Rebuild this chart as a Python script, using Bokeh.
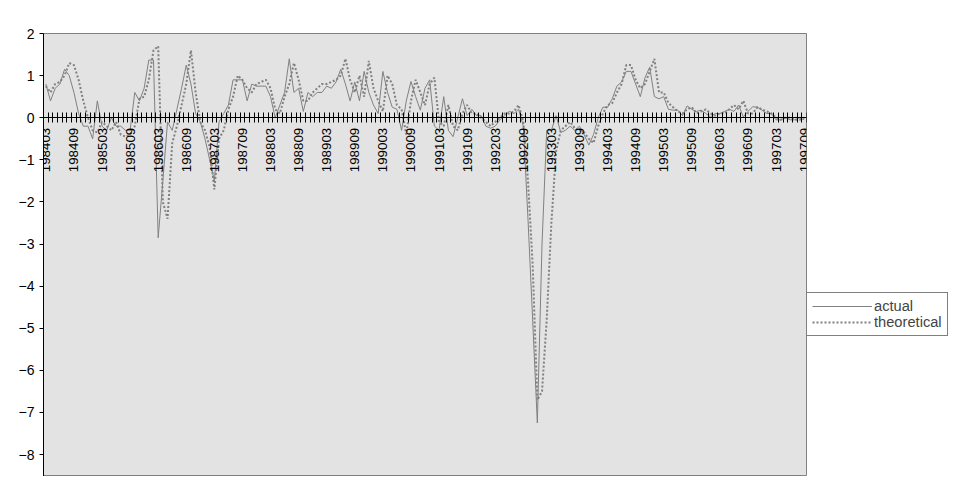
import math
from bokeh.plotting import figure
from bokeh.models import FixedTicker, Legend, LegendItem, Range1d, ColumnDataSource
from bokeh.embed import file_html
from bokeh.resources import INLINE

months = []
y, m = 1984, 3
while (y, m) <= (1997, 9):
    months.append(f"{y}{m:02d}")
    m += 1
    if m > 12:
        m = 1; y += 1

actual = [0.8, 0.4, 0.7, 0.8, 1.15, 1.0, 0.6, 0.1, -0.2, -0.2,
          -0.5, 0.4, -0.2, -0.3, 0.0, -0.2, -0.2, -0.3, -0.3, 0.6,
          0.4, 0.7, 1.37, 1.37, -2.85, -1.5, -0.1, -0.3, 0.2, 0.7,
          1.25, 0.8, 0.1, -0.1, -0.5, -1.0, -1.5, -0.1, 0.1, 0.3,
          0.9, 0.9, 0.9, 0.4, 0.8, 0.75, 0.75, 0.75, 0.5, 0.0,
          0.3, 0.6, 1.4, 0.6, 0.7, 0.15, 0.6, 0.5, 0.6, 0.6,
          0.75, 0.7, 0.85, 1.15, 0.8, 0.4, 0.85, 0.4, 1.1, 0.6,
          0.3, 0.1, 1.1, 0.6, 0.25, 0.2, -0.3, 0.4, 0.86, 0.5,
          0.18, 0.7, 0.9, -0.2, -0.3, 0.5, -0.3, -0.45, 0.0, 0.45,
          0.05, 0.2, 0.05, 0.05, -0.2, -0.25, -0.2, -0.05, 0.05, 0.15,
          0.1, 0.2, -0.2, -2.4, -4.8, -7.25, -3.0, -0.3, -0.3, 0.05,
          -0.35, -0.3, -0.2, -0.3, -0.2, -0.4, -0.65, -0.4, 0.0, 0.25,
          0.25, 0.45, 0.75, 0.85, 1.1, 1.1, 0.8, 0.5, 0.95, 1.2,
          0.5, 0.45, 0.5, 0.2, 0.18, 0.18, 0.05, 0.28, 0.2, 0.15,
          0.18, 0.1, 0.02, 0.1, 0.1, 0.15, 0.2, 0.15, 0.3, 0.02,
          0.15, 0.26, 0.25, 0.18, 0.1, 0.1, -0.05, -0.05, 0.0, -0.05,
          -0.05, 0.0, -0.05]

theoretical = [0.75, 0.6, 0.8, 0.85, 1.0, 1.3, 1.25, 0.9, 0.4, 0.0,
               -0.3, -0.35, -0.1, -0.2, -0.3, -0.1, -0.4, -0.45, -0.4, -0.2,
               0.45, 0.5, 0.9, 1.6, 1.7, -2.0, -2.4, -0.6, -0.2, 0.3,
               0.8, 1.6, 0.6, -0.1, -0.3, -0.7, -1.7, -0.5, -0.3, 0.2,
               0.5, 1.0, 0.9, 0.7, 0.6, 0.8, 0.85, 0.9, 0.7, 0.2,
               0.1, 0.5, 0.8, 1.3, 0.9, 0.4, 0.4, 0.6, 0.7, 0.8,
               0.8, 0.85, 0.9, 1.0, 1.4, 0.9, 0.6, 1.0, 0.5, 1.35,
               0.7, 0.4, 0.15, 1.0, 0.8, 0.3, 0.2, -0.4, 0.4, 0.9,
               0.6, 0.3, 0.8, 0.95, -0.1, -0.2, 0.3, -0.2, -0.3, 0.1,
               0.3, 0.1, 0.1, 0.0, -0.1, -0.2, -0.1, 0.0, 0.1, 0.1,
               0.15, 0.3, -0.1, -1.5, -3.5, -6.7, -6.5, -4.8, -2.5, -0.8,
               -0.3, -0.2, -0.1, -0.25, -0.3, -0.35, -0.5, -0.6, -0.2, 0.1,
               0.3, 0.35, 0.6, 0.8, 1.25, 1.25, 0.9, 0.7, 0.8, 1.1,
               1.4, 0.6, 0.6, 0.35, 0.25, 0.15, 0.1, 0.2, 0.25, 0.1,
               0.15, 0.2, 0.1, 0.05, 0.1, 0.1, 0.2, 0.3, 0.2, 0.4,
               0.1, 0.1, 0.25, 0.2, 0.15, 0.1, 0.0, -0.05, 0.0, 0.0,
               -0.05, -0.05, 0.0]

n = len(months)
actual = actual[:n] + [0.0] * (n - len(actual))
theoretical = theoretical[:n] + [0.0] * (n - len(theoretical))
xs = list(range(n))
src = ColumnDataSource(dict(x=xs, a=actual, t=theoretical))

p = figure(frame_width=763, frame_height=443, output_backend="svg", toolbar_location=None,
           x_range=Range1d(-0.5, n - 0.5), y_range=Range1d(-8.52, 2.0),
           min_border_left=43, min_border_top=33, min_border_right=0, min_border_bottom=0)
p.background_fill_color = "#e3e3e3"
p.outline_line_color = "#808080"
p.xgrid.visible = False
p.ygrid.visible = False

r1 = p.line("x", "a", source=src, line_color="#808080", line_width=1)
r2 = p.line("x", "t", source=src, line_color="#808080", line_width=2, line_dash="2 2")

p.yaxis.ticker = FixedTicker(ticks=list(range(-8, 3)))
p.yaxis.minor_tick_line_color = None
p.yaxis.major_tick_in = 0
p.yaxis.major_tick_out = 4
p.yaxis.axis_line_color = "black"
p.yaxis.major_label_text_font = "Liberation Sans"
p.yaxis.major_label_text_font_size = "10.5pt"
p.yaxis.major_label_text_color = "black"

xa = p.xaxis[0]
xa.fixed_location = 0
xa.ticker = FixedTicker(ticks=list(range(0, n, 6)), minor_ticks=[i + 0.5 for i in range(-1, n)])
xa.major_label_overrides = {i: months[i] for i in range(0, n, 6)}
xa.major_label_orientation = math.pi / 2
xa.major_label_text_font = "Liberation Sans"
xa.major_label_text_font_size = "10pt"
xa.major_label_text_color = "black"
xa.major_tick_in = 0
xa.major_tick_out = 0
xa.minor_tick_in = 5
xa.minor_tick_out = 5
xa.minor_tick_line_color = "black"
xa.axis_line_color = "black"

legend = Legend(items=[LegendItem(label="actual", renderers=[r1]),
                       LegendItem(label="theoretical", renderers=[r2])],
                location=(0, 140), orientation="vertical")
legend.label_text_font = "Liberation Sans"
legend.label_text_font_size = "11pt"
legend.border_line_color = "black"
legend.background_fill_color = "white"
legend.background_fill_alpha = 1
legend.glyph_width = 60
legend.spacing = 0
legend.padding = 5
legend.margin = 0
legend.label_standoff = 2
legend.label_height = 16
legend.glyph_height = 16
p.add_layout(legend, "right")

open("out.html", "w").write(file_html(p, INLINE))
